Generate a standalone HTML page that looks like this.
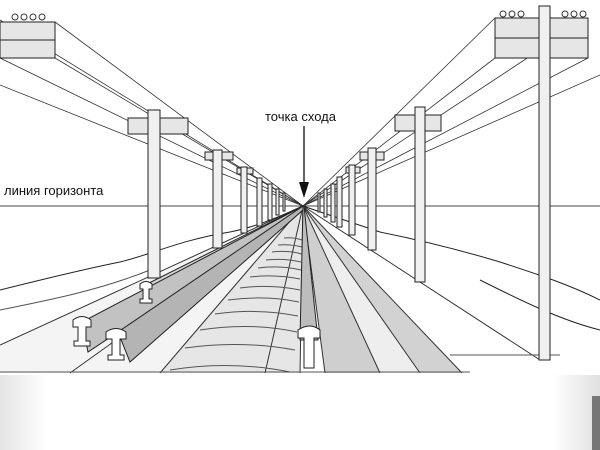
<!DOCTYPE html>
<html><head><meta charset="utf-8"><style>
html,body{margin:0;padding:0;background:#fff;}
svg{display:block}
text{font-family:"Liberation Sans",sans-serif;}
</style></head><body>
<svg width="600" height="450" viewBox="0 0 600 450" xmlns="http://www.w3.org/2000/svg">
<defs>
<linearGradient id="bl" x1="0" x2="1"><stop offset="0" stop-color="#e4e4e4"/><stop offset="0.08" stop-color="#fff"/><stop offset="0.92" stop-color="#fff"/><stop offset="1" stop-color="#e0e0e0"/></linearGradient>
</defs>
<rect x="0" y="375" width="600" height="75" fill="url(#bl)"/>
<rect x="592" y="396" width="8" height="54" fill="#777"/>
<!-- track shading -->
<polygon points="303,206 160,373 300,373" fill="#e6e6e6"/>
<polygon points="303,206 325,373 380,373" fill="#cfcfcf"/>
<polygon points="303,206 380,373 420,373" fill="#eeeeee"/>
<polygon points="303,206 420,373 462,373" fill="#d2d2d2"/>
<polygon points="303,206 0,345 0,373 160,373" fill="#f4f4f4"/>
<g stroke="#222" fill="none" stroke-width="1">
<line x1="0" y1="206" x2="600" y2="206" stroke="#444"/>
<path d="M0 290 C40 280 80 270 120 262 C150 255 180 240 230 232 C260 226 285 214 303 206" />
<path d="M0 310 C50 300 100 290 150 270" stroke="#555"/>
<path d="M600 300 C570 285 540 275 500 262 C460 250 420 240 380 232 C350 222 320 212 303 206"/>
<path d="M600 330 C560 320 520 300 480 280"/>
<g stroke="#333" stroke-width="0.8">
<line x1="0" y1="20" x2="303" y2="206"/><line x1="55" y1="22" x2="303" y2="206"/>
<line x1="0" y1="58" x2="303" y2="206"/><line x1="55" y1="58" x2="303" y2="206"/>
<line x1="0" y1="85" x2="303" y2="206"/>
<line x1="588" y1="18" x2="303" y2="206"/><line x1="495" y1="18" x2="303" y2="206"/>
<line x1="588" y1="58" x2="303" y2="206"/><line x1="495" y1="58" x2="303" y2="206"/>
<line x1="600" y1="75" x2="303" y2="206"/>
</g>
<g stroke="#333">
<line x1="303" y1="206" x2="0" y2="345"/>
<line x1="303" y1="206" x2="70" y2="373"/>
<line x1="303" y1="206" x2="160" y2="373"/>
<line x1="303" y1="206" x2="265" y2="373"/>
<line x1="303" y1="206" x2="300" y2="373"/>
<line x1="303" y1="206" x2="325" y2="373"/>
<line x1="303" y1="206" x2="380" y2="373"/>
<line x1="303" y1="206" x2="420" y2="373"/>
<line x1="303" y1="206" x2="462" y2="373"/>
<line x1="303" y1="206" x2="540" y2="360"/>
</g>
<g stroke="#555">
<path d="M170 370 Q230 360 290 372"/><path d="M185 348 Q240 340 295 350"/>
<path d="M200 330 Q250 322 297 332"/><path d="M215 314 Q258 308 298 316"/>
<path d="M228 300 Q265 295 299 302"/><path d="M240 288 Q270 284 300 290"/>
<path d="M250 277 Q275 274 300 279"/><path d="M258 268 Q280 265 301 270"/>
<path d="M266 260 Q284 258 301 262"/><path d="M272 252 Q288 250 302 254"/>
<path d="M278 245 Q290 244 302 247"/><path d="M284 238 Q293 237 302 240"/>
<line x1="0" y1="372" x2="470" y2="372"/><line x1="450" y1="355" x2="560" y2="355"/>
</g>
</g>
<g stroke="#222" stroke-width="1">
<polygon points="303,206 145,285 150,300 303,208" fill="#d4d4d4"/>
<polygon points="303,206 82,322 88,352 303,209" fill="#c2c2c2"/>
<polygon points="303,206 118,332 130,362 303,210" fill="#b4b4b4"/>
<polygon points="303,206 300,340 318,340 304,206" fill="#bdbdbd"/>
<path d="M140 284 q6 -5 12 0 v5 h-3 v10 h3 v4 h-12 v-4 h3 v-10 h-3z" fill="#fff"/>
<path d="M73 320 q9 -7 18 0 v7 h-5 v14 h4 v5 h-16 v-5 h4 v-14 h-5z" fill="#fff"/>
<path d="M106 332 q10 -7 20 0 v7 h-6 v16 h4 v5 h-16 v-5 h4 v-16 h-6z" fill="#fff"/>
<path d="M298 330 q12 -8 22 0 v8 h-6 v30 h-10 v-30 h-6z" fill="#fff"/>
</g>
<g stroke="#222" fill="#f0f0f0" stroke-width="1">
<rect x="0" y="22" width="55" height="36" fill="#e6e6e6"/>
<line x1="0" y1="40" x2="55" y2="40"/>
<rect x="495" y="18" width="93" height="40" fill="#e6e6e6"/>
<line x1="495" y1="38" x2="588" y2="38"/>
<rect x="539" y="6" width="11" height="354"/>
<rect x="128" y="118" width="60" height="16" fill="#e6e6e6"/>
<rect x="148" y="110" width="12" height="168"/>
<rect x="395" y="115" width="46" height="16" fill="#e6e6e6"/>
<rect x="415" y="107" width="10" height="175"/>
<rect x="205" y="152" width="28" height="8" fill="#e6e6e6"/>
<rect x="213" y="150" width="9" height="98"/>
<rect x="360" y="152" width="24" height="8" fill="#e6e6e6"/>
<rect x="368" y="148" width="8" height="102"/>
<rect x="237" y="168" width="16" height="6" fill="#e6e6e6"/>
<rect x="241" y="167" width="6" height="66"/>
<rect x="346" y="167" width="14" height="6" fill="#e6e6e6"/>
<rect x="349" y="165" width="6" height="70"/>
<rect x="257" y="178" width="5" height="48"/>
<rect x="337" y="177" width="5" height="50"/>
<rect x="268" y="184" width="4" height="36"/>
<rect x="331" y="184" width="4" height="38"/>
<rect x="276" y="189" width="3" height="26"/>
<rect x="324" y="189" width="3" height="28"/>
<rect x="283" y="193" width="2" height="18"/>
<rect x="318" y="193" width="2" height="19"/>
</g>
<g fill="#fff" stroke="#333">
<circle cx="15" cy="17" r="3"/><circle cx="24" cy="17" r="3"/><circle cx="33" cy="17" r="3"/><circle cx="42" cy="17" r="3"/>
<circle cx="503" cy="14" r="3"/><circle cx="512" cy="14" r="3"/><circle cx="521" cy="14" r="3"/>
<circle cx="565" cy="14" r="3"/><circle cx="574" cy="14" r="3"/><circle cx="583" cy="14" r="3"/>
</g>
<text x="265" y="121" font-size="13" fill="#111">точка схода</text>
<line x1="304" y1="126" x2="304" y2="190" stroke="#111" stroke-width="1.3"/>
<polygon points="299,182 309,182 304,198" fill="#111"/>
<text x="4" y="195" font-size="13" fill="#111">линия горизонта</text>
</svg>
</body></html>
